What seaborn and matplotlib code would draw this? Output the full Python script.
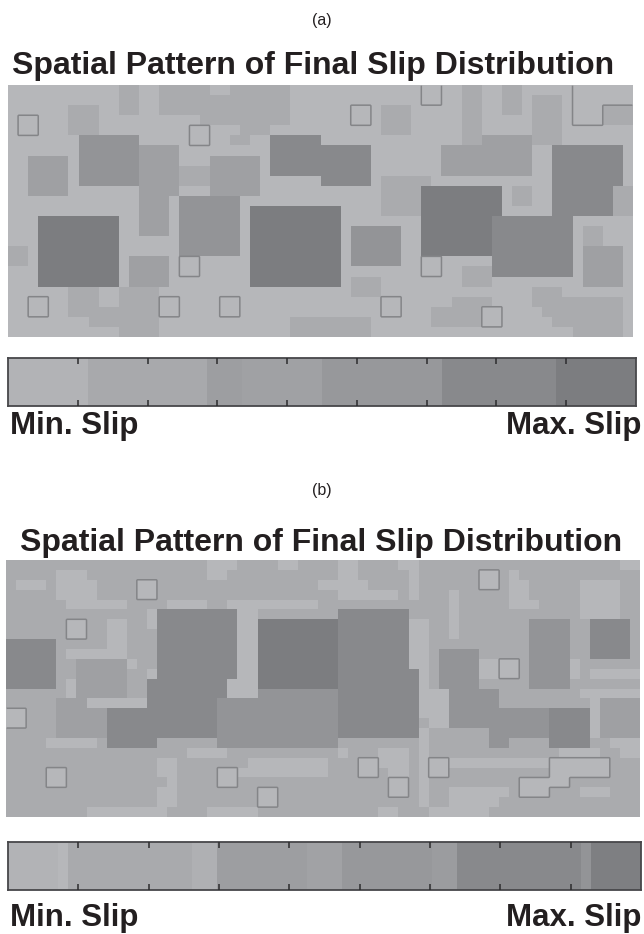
import numpy as np
import matplotlib
matplotlib.use("Agg")
import matplotlib.pyplot as plt
import seaborn as sns

# slip level per map cell, 0 = min, 5 = max, s = small light square with a thin outline
slip_a = [
    "0000000000 0110011111 0011111100 0000000000 0ss0011001 100000ssss ss",
    "0000000000 0110011111 1111111100 0000000000 0ss0011001 101110ssss ss",
    "0000001110 0110011111 1111111100 0000ss0111 0000011001 101110sss1 11",
    "0ss0001110 0000000001 1111111100 0000ss0111 0000011000 001110sss1 11",
    "0ss0001110 00000000ss 0001110000 0000000111 0000011000 0011100000 00",
    "0000000333 33300000ss 0011004444 4000000000 0000011222 2211100000 00",
    "0000000333 3332222000 0000004444 4444440000 0002222222 2200444444 40",
    "0022220333 3332222000 2222204444 4444440000 0002222222 2200444444 40",
    "0022220333 3332222111 2222204444 4444440000 0002222222 2200444444 40",
    "0022220333 3332222111 2222200000 0444440111 1100000000 0000444444 40",
    "0022220000 0002222000 2222200000 0000000111 1555555550 1100444444 11",
    "0000000000 0002220333 3330000000 0000000111 1555555550 1100444444 11",
    "0000000000 0002220333 3330555555 5550000111 1555555550 0000444444 11",
    "0005555555 5002220333 3330555555 5550000000 0555555544 4444440000 00",
    "0005555555 5002220333 3330555555 5550333330 0555555544 4444440110 00",
    "0005555555 5000000333 3330555555 5550333330 0555555544 4444440110 00",
    "1105555555 5000000333 3330555555 5550333330 0555555544 4444440222 20",
    "1105555555 5022220ss0 0000555555 5550333330 0ss0000044 4444440222 20",
    "0005555555 5022220ss0 0000555555 5550000000 0ss0011144 4444440222 20",
    "0005555555 5022220000 0000555555 5550111000 0000011100 0000000222 20",
    "0000001110 0111100000 0000000000 0000111000 0000000000 0011100000 00",
    "00ss001110 01111ss000 0ss0000000 0000000ss0 0000111100 0011111111 10",
    "00ss001111 11111ss000 0ss0000000 0000000ss0 0011111ss0 0001111111 10",
    "0000000011 1111100000 0000000011 1111110000 0011111ss0 0000111111 10",
    "0000000000 0111100000 0000000011 1111110000 0000000000 0000001111 10",
]

slip_b = [
    "1111111111 1111111111 0001111001 1110011110 0111111111 1111111111 100",
    "1111100011 1111111111 0011111111 1110011111 0111111ss1 0111111111 111",
    "1000100001 111ss11111 1111111111 1000001111 0111111ss1 0011111000 011",
    "1111100001 111ss11111 1111111111 1110000001 0111011111 0011111000 011",
    "1111110000 0011110000 1100000000 0111111111 1111011111 0001111000 011",
    "1111111111 1111044444 4440011111 1114444444 1111011111 1111111000 011",
    "111111ss11 0011044444 4440055555 5554444444 0011011111 1133331144 441",
    "111111ss11 0011144444 4440055555 5554444444 0011011111 1133331144 441",
    "4444411111 0011144444 4440055555 5554444444 0011111111 1133331144 441",
    "4444410000 0011144444 4440055555 5554444444 0013333111 1133331144 441",
    "4444411222 2201144444 4440055555 5554444444 001333300s s133330111 111",
    "4444411222 2211044444 4440055555 5554444444 401333300s s133330100 000",
    "4444410222 2211444444 4400055555 5554444444 4013333111 1133331111 111",
    "1111110222 2211444444 4400033333 3334444444 4000333331 1111111000 000",
    "1111122200 0000444444 4333333333 3334444444 4000333331 1111111102 222",
    "ss11122222 4444444444 4333333333 3334444444 4000333333 3333444402 222",
    "ss11122222 4444444444 4333333333 3334444444 4100333333 3333444402 222",
    "1111122222 4444444444 4333333333 3334444444 4011111133 3333444402 222",
    "1111000001 4444411111 1333333333 3331111111 1011111133 1111444411 000",
    "1111111111 1111111100 0011111111 1110111000 1011111111 1111100001 100",
    "1111111111 1111100111 1111000000 00111ss000 10ss000000 0000ssssss 111",
    "1111ss1111 1111100111 1ss0000000 00111ss100 10ss111111 1111ssssss 111",
    "1111ss1111 1111110111 1ss1111111 11111111ss 1011111111 1sssss1111 111",
    "1111111111 1111100111 11111ss111 11111111ss 1011000000 1sss111000 111",
    "1111111111 1111100111 11111ss111 1111111111 1011000001 1111111111 111",
    "1111111100 0000001111 0000011111 1111111001 1100000011 1111111111 111",
]

# colour bars: slip level and length of each band
bar_a_levels = [0.35, 1.2, 2.2, 1.9, 2.7, 4.0, 5.0]
bar_a_counts = [16, 24, 7, 16, 24, 23, 16]
bar_b_levels = [0.35, 0.0, 1.1, 0.6, 2.2, 1.8, 2.7, 2.3, 4.0, 3.0, 4.8]
bar_b_counts = [10, 2, 25, 5, 18, 7, 18, 5, 25, 2, 10]
n_sections = 9

title = "Spatial Pattern of Final Slip Distribution"
min_label = "Min. Slip"
max_label = "Max. Slip"

sns.set_theme(style="white")
plt.rcParams["font.family"] = ["Liberation Sans", "DejaVu Sans"]

W, H = 644, 934
fig = plt.figure(figsize=(W / 100, H / 100), dpi=100, facecolor="white")
grays = sns.blend_palette(["#b6b7ba", "#7c7d80"], as_cmap=True)
ink = "#231f20"


def box(x0, y0, x1, y1):
    # pixel box of the reference to figure fractions
    return [x0 / W, 1 - y1 / H, (x1 - x0) / W, (y1 - y0) / H]


def draw_map(rows, rect):
    rows = [r.replace(" ", "") for r in rows]
    ax = fig.add_axes(box(*rect))
    levels = np.array([[0 if c == "s" else int(c) for c in r] for r in rows], dtype=float)
    sns.heatmap(levels, ax=ax, cmap=grays, vmin=0, vmax=5, cbar=False,
                xticklabels=False, yticklabels=False)
    # thin outline round the light squares
    squares = np.array([[c == "s" for c in r] for r in rows], dtype=float)
    big = np.kron(squares, np.ones((8, 8)))
    xs = (np.arange(big.shape[1]) + 0.5) / 8
    ys = (np.arange(big.shape[0]) + 0.5) / 8
    ax.contour(xs, ys, big, levels=[0.5], colors="#848588", linewidths=1.1)


def draw_bar(levels, counts, rect):
    ax = fig.add_axes(box(*rect))
    cells = np.repeat(levels, counts)
    sns.heatmap(cells[np.newaxis, :], ax=ax, cmap=grays, vmin=0, vmax=5, cbar=False,
                xticklabels=False, yticklabels=False)
    for s in ax.spines.values():
        s.set_visible(True)
        s.set_color("#47474a")
        s.set_linewidth(1.3)
    ax.set_axisbelow(False)
    ax.set_xticks(np.linspace(0, len(cells), n_sections + 1)[1:-1])
    ax.tick_params(axis="x", bottom=True, top=True, direction="in", length=4.5,
                   width=1.1, color="#2c2c2e", labelbottom=False)


def put_text(x, y, s, **kw):
    fig.text(x / W, 1 - y / H, s, va="center", color=ink, **kw)


draw_map(slip_a, (8, 85, 633, 337))
draw_bar(bar_a_levels, bar_a_counts, (8, 358, 636, 406))
draw_map(slip_b, (6, 560, 640, 817))
draw_bar(bar_b_levels, bar_b_counts, (8, 842, 641, 890))

put_text(322, 20, "(a)", ha="center", fontsize=11.5)
put_text(12, 66, title, ha="left", fontsize=23, fontweight="bold")
put_text(10, 426, min_label, ha="left", fontsize=22.5, fontweight="bold")
put_text(641, 426, max_label, ha="right", fontsize=22.5, fontweight="bold")

put_text(322, 491, "(b)", ha="center", fontsize=11.5)
put_text(20, 543, title, ha="left", fontsize=23, fontweight="bold")
put_text(10, 918, min_label, ha="left", fontsize=22.5, fontweight="bold")
put_text(641, 918, max_label, ha="right", fontsize=22.5, fontweight="bold")

fig.savefig("out.png", dpi=100)
